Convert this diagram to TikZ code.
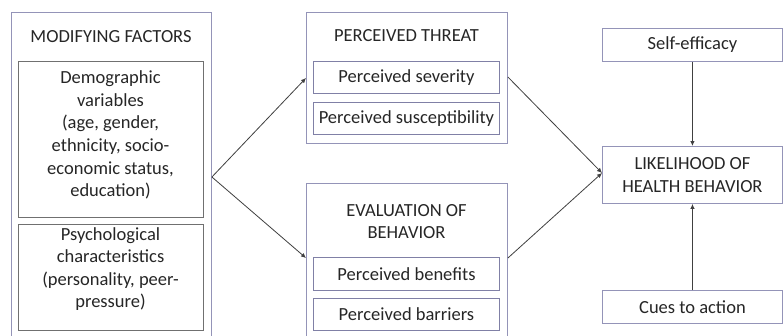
\documentclass[tikz,border=0pt]{standalone}
\usepackage{fontspec}
\setmainfont{Carlito}
\usetikzlibrary{arrows.meta,calc}
\definecolor{outerc}{HTML}{9494B8}
\definecolor{innerc}{HTML}{8080A6}
\definecolor{greyc}{HTML}{707070}
\definecolor{txt}{HTML}{262626}
\definecolor{arr}{HTML}{404040}
\begin{document}
\begin{tikzpicture}[x=1pt,y=-1pt,
  box/.style={draw=#1,line width=0.9pt,anchor=north west,inner sep=0pt,
    font=\fontsize{18.5}{22.6}\selectfont,text=txt,align=center},
  box/.default=outerc,
  conn/.style={draw=arr,line width=0.8pt,-{Latex[length=5pt,width=4.5pt]}},
  lbl/.style={font=\fontsize{18.5}{22.6}\selectfont,text=txt,align=center,inner sep=0pt}]
\useasboundingbox (0,0) rectangle (783,335);
\fill[white] (0,0) rectangle (783,335);
% left column
\node[box,minimum width=200pt,minimum height=333pt] (mf) at (11,12) {};
\node[lbl] (mft) at (111,37) {MODIFYING FACTORS};
\node[box=greyc,minimum width=185pt,minimum height=156pt] (demo) at (18,61) {};
\node[lbl] (demot) at (110.5,135) {Demographic\\variables\\(age, gender,\\ethnicity, socio-\\economic status,\\education)};
\node[box=greyc,minimum width=185pt,minimum height=106pt] (psych) at (18,224) {};
\node[lbl] (psycht) at (110.5,269) {Psychological\\characteristics\\(personality, peer-\\pressure)};
% middle column
\node[box,minimum width=201pt,minimum height=131pt] (pt) at (306,12) {};
\node[lbl] (ptt) at (406.5,36) {PERCEIVED THREAT};
\node[box=innerc,minimum width=186pt,minimum height=32pt] (sev) at (313,61) {Perceived severity};
\node[box=innerc,minimum width=186pt,minimum height=32pt] (sus) at (313,102) {Perceived susceptibility};
\node[box,minimum width=201pt,minimum height=162pt] (ev) at (306,183) {};
\node[lbl] (evt) at (406.5,221.5) {EVALUATION OF\\BEHAVIOR};
\node[box=innerc,minimum width=186pt,minimum height=33pt] (ben) at (313,257) {Perceived benefits};
\node[box=innerc,minimum width=186pt,minimum height=32pt] (bar) at (313,298) {Perceived barriers};
% right column
\node[box,minimum width=180pt,minimum height=33pt] (se) at (602,28) {Self-efficacy};
\node[box,minimum width=180pt,minimum height=57pt] (lh) at (602,146) {LIKELIHOOD OF\\HEALTH BEHAVIOR};
\node[box,minimum width=180pt,minimum height=33pt] (cues) at (602,290) {Cues to action};
% connectors
\coordinate (mfo) at ($(mf.north east)+(0,165)$);
\coordinate (evin) at ($(ev.north west)+(0,75)$);
\coordinate (evout) at ($(ev.north east)+(0,75)$);
\coordinate (ptin) at ($(pt.north west)+(0,66)$);
\coordinate (ptout) at ($(pt.north east)+(0,65)$);
\coordinate (lhin) at ($(lh.north west)+(0,27)$);
\draw[conn] (mfo) -- (ptin);
\draw[conn] (mfo) -- (evin);
\draw[conn] (ptout) -- (lhin);
\draw[conn] (evout) -- (lhin);
\draw[conn] (se.south) -- (lh.north);
\draw[conn] (cues.north) -- (lh.south);
\end{tikzpicture}
\end{document}
